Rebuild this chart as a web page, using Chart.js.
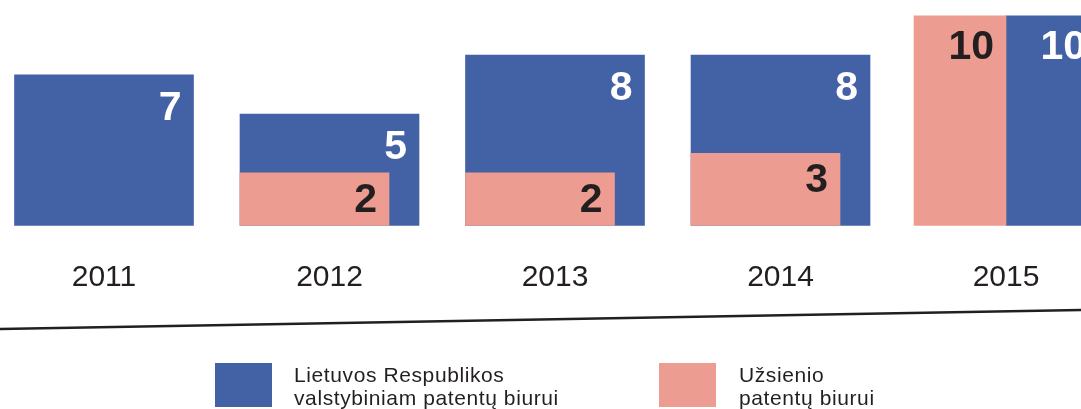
<!DOCTYPE html>
<html>
<head>
<meta charset="utf-8">
<script src="https://cdn.jsdelivr.net/npm/chart.js@4.4.1/dist/chart.umd.min.js"></script>
<style>
  html, body { margin: 0; padding: 0; background: #ffffff; }
  #wrap { position: relative; width: 1081px; height: 409px; overflow: hidden; }
  #c { position: absolute; left: 0; top: 0; }
  .lg-box { position: absolute; top: 363px; width: 57px; height: 44px; }
  .lg-text { position: absolute; top: 362.8px; font-family: "Liberation Sans", Arial, sans-serif;
             font-size: 21px; line-height: 23px; color: #231f20; letter-spacing: 0.6px; white-space: nowrap; }
</style>
</head>
<body>
<div id="wrap">
  <canvas id="c" width="1081" height="409"></canvas>
  <div id="legend"></div>
</div>
<script>
// ---------- data ----------
const years    = [2011, 2012, 2013, 2014, 2015];
const domestic = [7, 5, 8, 8, 10];        // Lietuvos Respublikos valstybiniam patentų biurui
const foreign  = [null, 2, 2, 3, 10];     // Užsienio patentų biurui
const domesticLabel = ['Lietuvos Respublikos', 'valstybiniam patentų biurui'];
const foreignLabel  = ['Užsienio', 'patentų biurui'];

// ---------- style / layout ----------
const W = 1081, H = 409;
const BLUE = '#4361a5', PINK = '#ec9c90', INK = '#231f20';
const FIRST_X = 104, STEP_X = 225.5;           // pixel centre of first year, pixels per year
const AREA_BOTTOM = 225.7;                     // bottom edge of bars
const PX_PER_UNIT = 19.64, BASE_VALUE = -0.687;
const WIDE = 179, NARROW = 149, SPLIT = 92;    // bar widths in px
const FONT = '"Liberation Sans", Arial, sans-serif';

const shift = (WIDE - NARROW) / 2 / STEP_X;
const isSplit = years.map((_, i) => foreign[i] !== null && foreign[i] === domestic[i]);
const pts = (arr, keep, dx) => years.map((y, i) => ({ x: y + dx, y: keep(i) ? arr[i] : null }));

const common = { base: BASE_VALUE, borderWidth: 0, skipNull: true };
const datasets = [
  Object.assign({ label: foreignLabel.join(' '), data: pts(foreign, i => !isSplit[i], -shift),
    backgroundColor: PINK, barThickness: NARROW, grouped: false, order: 0, valueColor: INK, valueInset: 10 }, common),
  Object.assign({ label: domesticLabel.join(' '), data: pts(domestic, i => !isSplit[i], 0),
    backgroundColor: BLUE, barThickness: WIDE, grouped: false, order: 1, valueColor: '#ffffff', valueInset: 16 }, common),
  Object.assign({ label: foreignLabel.join(' '), data: pts(foreign, i => isSplit[i], 0),
    backgroundColor: PINK, barThickness: SPLIT, grouped: true, order: 0, valueColor: INK, valueInset: 14 }, common),
  Object.assign({ label: domesticLabel.join(' '), data: pts(domestic, i => isSplit[i], 0),
    backgroundColor: BLUE, barThickness: SPLIT, grouped: true, order: 1, valueColor: '#ffffff', valueInset: 14 }, common)
];

const barLabels = {
  id: 'barLabels',
  afterDatasetsDraw(chart) {
    const ctx = chart.ctx;
    chart.data.datasets.forEach((ds, di) => {
      const meta = chart.getDatasetMeta(di);
      meta.data.forEach((el, i) => {
        const v = ds.data[i].y;
        if (v === null || v === undefined) return;
        const p = el.getProps(['x', 'y', 'width'], true);
        ctx.save();
        ctx.font = 'bold 41px ' + FONT;
        ctx.fillStyle = ds.valueColor;
        ctx.textAlign = 'right';
        ctx.textBaseline = 'alphabetic';
        ctx.fillText(String(v), p.x + p.width / 2 - 12, p.y + ds.valueInset + 29);
        ctx.restore();
      });
    });
  }
};

const divider = {
  id: 'divider',
  afterDraw(chart) {
    const c = chart.ctx;
    c.save();
    c.strokeStyle = INK;
    c.lineWidth = 2.5;
    c.beginPath();
    c.moveTo(0, 329);
    c.lineTo(chart.width, 310);
    c.stroke();
    c.restore();
  }
};

new Chart(document.getElementById('c'), {
  type: 'bar',
  data: { datasets },
  options: {
    responsive: false,
    animation: false,
    layout: { padding: 0 },
    plugins: { legend: { display: false }, tooltip: { enabled: false } },
    scales: {
      x: {
        type: 'linear',
        offset: false,
        min: years[0] - FIRST_X / STEP_X,
        max: years[0] + (W - FIRST_X) / STEP_X,
        grid: { display: false },
        border: { display: false },
        afterBuildTicks: s => { s.ticks = years.map(v => ({ value: v })); },
        afterFit: s => { s.height = H - AREA_BOTTOM; },
        ticks: {
          autoSkip: false, maxRotation: 0, padding: 26,
          color: INK, font: { family: FONT, size: 30 },
          callback: v => String(v)
        }
      },
      y: {
        display: false,
        min: BASE_VALUE,
        max: BASE_VALUE + AREA_BOTTOM / PX_PER_UNIT
      }
    }
  },
  plugins: [barLabels, divider]
});

// ---------- HTML legend ----------
const legendItems = [
  { color: BLUE, text: domesticLabel, box: 215, txt: 294 },
  { color: PINK, text: foreignLabel, box: 659, txt: 739 }
];
const lg = document.getElementById('legend');
legendItems.forEach(it => {
  const b = document.createElement('div');
  b.className = 'lg-box'; b.style.left = it.box + 'px'; b.style.background = it.color;
  const t = document.createElement('div');
  t.className = 'lg-text'; t.style.left = it.txt + 'px';
  t.innerHTML = it.text.join('<br>');
  lg.appendChild(b); lg.appendChild(t);
});
</script>
</body>
</html>
